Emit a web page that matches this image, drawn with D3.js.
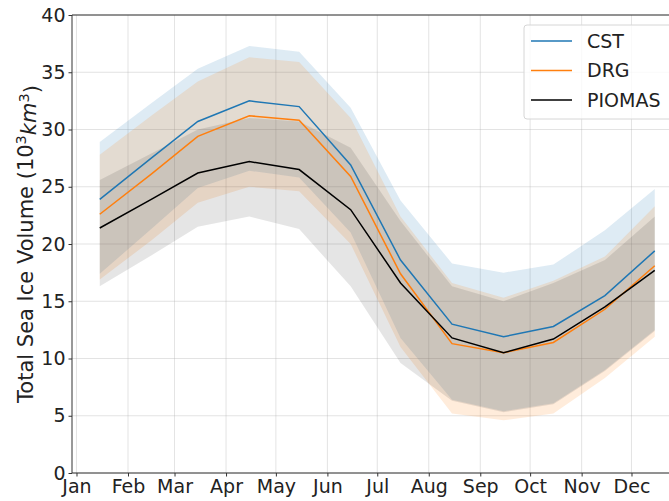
<!DOCTYPE html>
<html>
<head>
<meta charset="utf-8">
<script src="https://cdn.jsdelivr.net/npm/d3@7"></script>
<style>
  body { margin: 0; background: #fff; }
  text { font-family: "DejaVu Sans", sans-serif; }
</style>
</head>
<body>
<div id="chart"></div>
<script>
// monthly values, plotted at the 15th of each month
const months = ["Jan", "Feb", "Mar", "Apr", "May", "Jun", "Jul", "Aug", "Sep", "Oct", "Nov", "Dec"]
const yTicks = [0, 5, 10, 15, 20, 25, 30, 35, 40]

const cstMean  = [23.9, 27.5, 30.7, 32.5, 32.0, 26.9, 18.6, 13.0, 11.9, 12.8, 15.5, 19.4]
const cstLow   = [17.4, 21.3, 24.9, 26.4, 25.8, 21.0, 11.8, 6.4, 5.4, 6.1, 9.0, 12.5]
const cstHigh  = [28.9, 32.3, 35.3, 37.3, 36.8, 31.9, 23.8, 18.3, 17.5, 18.2, 21.2, 24.8]

const drgMean  = [22.6, 26.1, 29.4, 31.2, 30.8, 25.9, 17.4, 11.3, 10.5, 11.4, 14.3, 18.1]
const drgLow   = [16.9, 20.3, 23.6, 25.0, 24.6, 20.0, 11.0, 5.2, 4.6, 5.2, 8.3, 11.9]
const drgHigh  = [27.8, 31.2, 34.2, 36.3, 35.9, 31.0, 22.4, 16.6, 15.3, 16.8, 18.9, 23.3]

const pioMean  = [21.4, 23.9, 26.2, 27.2, 26.5, 23.0, 16.6, 11.8, 10.5, 11.7, 14.5, 17.7]
const pioLow   = [16.3, 19.0, 21.5, 22.4, 21.3, 16.3, 9.6, 6.3, 5.3, 6.0, 8.9, 12.4]
const pioHigh  = [25.6, 27.9, 30.0, 31.0, 30.7, 28.4, 22.0, 16.3, 15.0, 16.6, 18.6, 22.4]

const series = [
  { name: "CST", color: "#1f77b4", fill: "#1f77b4", alpha: 0.15, mean: cstMean, low: cstLow, high: cstHigh },
  { name: "DRG", color: "#ff7f0e", fill: "#ff7f0e", alpha: 0.15, mean: drgMean, low: drgLow, high: drgHigh },
  { name: "PIOMAS", color: "#000000", fill: "#000000", alpha: 0.1, mean: pioMean, low: pioLow, high: pioHigh }
]

const W = 669, H = 501
const margin = { left: 72, top: 15, bottom: 473, right: 682.5 }

const dates = months.map((m, i) => new Date(2001, i, 15))
const [d0, d1] = d3.extent(dates)
const pad = (d1 - d0) * 0.05

const x = d3.scaleTime()
  .domain([new Date(+d0 - pad), new Date(+d1 + pad)])
  .range([margin.left, margin.right])

const y = d3.scaleLinear()
  .domain([0, 40])
  .range([margin.bottom, margin.top])

const svg = d3.select("#chart")
  .append("svg")
  .attr("width", W)
  .attr("height", H)

// grid
const monthStarts = months.map((m, i) => new Date(2001, i, 1))
svg.append("g")
  .selectAll("line")
  .data(monthStarts)
  .enter().append("line")
  .attr("x1", d => x(d)).attr("x2", d => x(d))
  .attr("y1", margin.top).attr("y2", margin.bottom)
  .style("stroke", "#b0b0b0").style("stroke-opacity", 0.35).style("stroke-width", 1)
svg.append("g")
  .selectAll("line")
  .data(yTicks)
  .enter().append("line")
  .attr("x1", margin.left).attr("x2", margin.right)
  .attr("y1", d => y(d)).attr("y2", d => y(d))
  .style("stroke", "#b0b0b0").style("stroke-opacity", 0.35).style("stroke-width", 1)

// bands
const area = s => d3.area()
  .x((d, i) => x(dates[i]))
  .y0((d, i) => y(s.low[i]))
  .y1((d, i) => y(s.high[i]))

svg.append("g")
  .selectAll("path")
  .data(series)
  .enter().append("path")
  .attr("d", s => area(s)(s.mean))
  .style("fill", s => s.fill)
  .style("fill-opacity", s => s.alpha)
  .style("stroke", "none")

// lines
const line = d3.line().x((d, i) => x(dates[i])).y(d => y(d))
svg.append("g")
  .selectAll("path")
  .data(series)
  .enter().append("path")
  .attr("d", s => line(s.mean))
  .style("fill", "none")
  .style("stroke", s => s.color)
  .style("stroke-width", 1.5)

// axes
const xAxis = svg.append("g")
  .attr("transform", "translate(0," + margin.bottom + ")")
  .call(d3.axisBottom(x).tickValues(monthStarts).tickFormat(d3.timeFormat("%b")).tickSize(3.5).tickPadding(3))
const yAxis = svg.append("g")
  .attr("transform", "translate(" + margin.left + ",0)")
  .call(d3.axisLeft(y).tickValues(yTicks).tickSize(3.5).tickPadding(3))

for (const g of [xAxis, yAxis]) {
  g.select(".domain").remove()
  g.selectAll(".tick line").style("stroke", "#333").style("stroke-width", 1)
  g.selectAll(".tick text").style("font-size", "19px").style("fill", "#222")
    .style("font-family", "'DejaVu Sans', sans-serif")
}

// spines
const spines = [
  [margin.left, margin.top, margin.left, margin.bottom],
  [margin.left, margin.bottom, margin.right, margin.bottom],
  [margin.left, margin.top, margin.right, margin.top],
  [margin.right, margin.top, margin.right, margin.bottom]
]
svg.append("g").selectAll("line")
  .data(spines)
  .enter().append("line")
  .attr("x1", d => d[0]).attr("y1", d => d[1])
  .attr("x2", d => d[2]).attr("y2", d => d[3])
  .style("stroke", "#333").style("stroke-width", 1)

// y label
const yl = svg.append("text")
  .attr("transform", "translate(33," + ((margin.top + margin.bottom) / 2) + ") rotate(-90)")
  .attr("text-anchor", "middle")
  .style("font-size", "21px")
  .style("fill", "#222")
yl.append("tspan").text("Total Sea Ice Volume (10")
yl.append("tspan").attr("dy", "-0.45em").style("font-size", "14.5px").text("3")
yl.append("tspan").attr("dy", "0.45em").style("font-style", "italic").text("km")
yl.append("tspan").attr("dy", "-0.45em").style("font-size", "14.5px").text("3")
yl.append("tspan").attr("dy", "0.45em").text(")")

// legend
const lg = svg.append("g").attr("transform", "translate(524,25)")
lg.append("rect")
  .attr("width", 149).attr("height", 94).attr("rx", 3)
  .style("fill", "#fff").style("fill-opacity", 0.8)
  .style("stroke", "#d6d6d6").style("stroke-width", 1)
const item = lg.selectAll("g.item")
  .data(series)
  .enter().append("g")
  .attr("class", "item")
  .attr("transform", (d, i) => "translate(0," + (16 + i * 29.5) + ")")
item.append("line")
  .attr("x1", 7).attr("x2", 48)
  .style("stroke", d => d.color).style("stroke-width", 1.5)
item.append("text")
  .attr("x", 63).attr("dy", "0.36em")
  .style("font-size", "19px").style("fill", "#222")
  .text(d => d.name)
</script>
</body>
</html>
